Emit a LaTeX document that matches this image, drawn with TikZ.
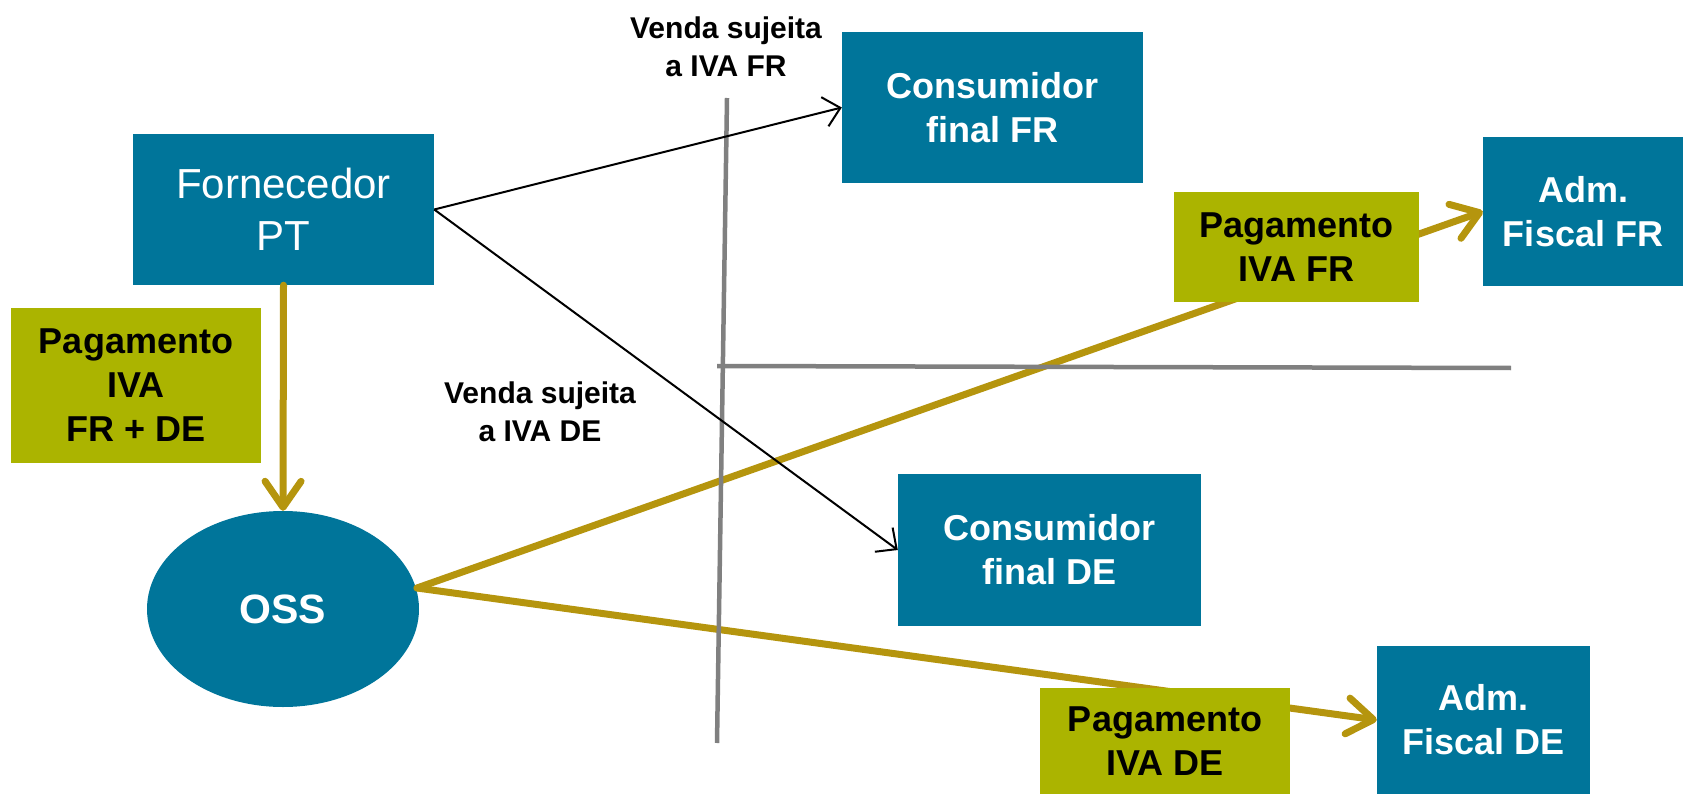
\documentclass[tikz,border=0pt]{standalone}
\usepackage{fontspec}
\setmainfont{Liberation Sans}
\usetikzlibrary{arrows.meta,shapes.geometric}
\definecolor{teal}{RGB}{0,117,154}
\definecolor{olive}{RGB}{171,180,0}
\definecolor{goldline}{RGB}{181,149,14}
\definecolor{grayline}{RGB}{128,128,128}
\tikzset{
  bluebox/.style={fill=teal, text=white, inner sep=0pt, align=center, font=\fontsize{36}{44}\selectfont\bfseries},
  olivebox/.style={fill=olive, text=black, inner sep=0pt, align=center, font=\fontsize{36}{44}\selectfont\bfseries},
  lbl/.style={inner sep=0pt, align=center, font=\fontsize{30}{38}\selectfont\bfseries},
  sale/.style={line width=2pt, -{Straight Barb[length=16pt,width=30pt]}},
  pay/.style={line width=7pt, draw=goldline, line cap=round, -{Straight Barb[length=26pt,width=36pt,line cap=round,line join=round]}},
  divider/.style={line width=4.5pt, draw=grayline},
}
\begin{document}
\begin{tikzpicture}[x=1pt,y=-1pt]
\useasboundingbox (0,0) rectangle (1683,794);
% nodes
\node[bluebox, minimum width=301pt, minimum height=151pt, font=\fontsize{42}{52}\selectfont] (forn) at (283.5,209.5) {Fornecedor\\PT};
\node[bluebox, minimum width=301pt, minimum height=151pt] (cfr) at (992.5,107.5) {Consumidor\\final FR};
\node[bluebox, minimum width=303pt, minimum height=152pt] (cde) at (1049.5,550) {Consumidor\\final DE};
\node[bluebox, minimum width=200pt, minimum height=149pt] (afr) at (1583,211.5) {Adm.\\Fiscal FR};
\node[bluebox, minimum width=213pt, minimum height=148pt] (ade) at (1483.5,720) {Adm.\\Fiscal DE};
\node[bluebox, shape=ellipse, minimum width=272pt, minimum height=196pt, font=\fontsize{41}{48}\selectfont\bfseries] (oss) at (283,609) {OSS};
\node[lbl] (vfr) at (726,46.5) {Venda sujeita\\a IVA FR};
\node[lbl] (vde) at (540,412) {Venda sujeita\\a IVA DE};
% gold payment arrows
\coordinate (ossout) at (417,588);
\draw[pay] (forn.south) -- (oss.north);
\draw[pay] (ossout) -- (afr.west);
\draw[pay] (ossout) -- (ade.west);
% olive boxes above gold lines
\node[olivebox, minimum width=250pt, minimum height=155pt] (pall) at (136,385.5) {Pagamento\\IVA\\FR + DE};
\node[olivebox, minimum width=245pt, minimum height=110pt] (pfr) at (1296.5,247) {Pagamento\\IVA FR};
\node[olivebox, minimum width=250pt, minimum height=106pt] (pde) at (1165,741) {Pagamento\\IVA DE};
% dividers
\coordinate (vtop) at (727,98);
\coordinate (vbot) at (717,743);
\coordinate (hleft) at (717,366);
\coordinate (hright) at (1511,368);
\draw[divider] (vtop) -- (vbot);
\draw[divider] (hleft) -- (hright);
% sales arrows
\draw[sale] (forn.east) -- (cfr.west);
\draw[sale] (forn.east) -- (cde.west);
\end{tikzpicture}
\end{document}
